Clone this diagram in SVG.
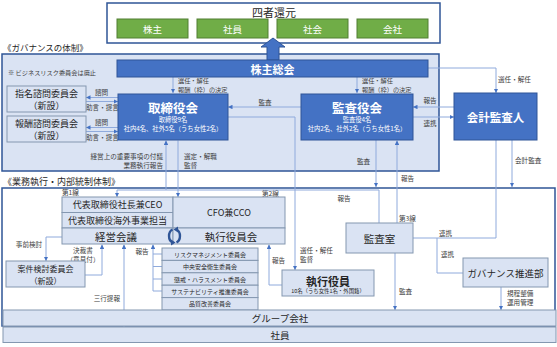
<svg xmlns="http://www.w3.org/2000/svg" width="557" height="347" viewBox="0 0 557 347">
<style>
text{font-family:'Noto Sans CJK JP','Noto Sans',sans-serif;dominant-baseline:central}
.t{fill:#262626;text-anchor:middle}
.w{fill:#fff;text-anchor:middle;font-weight:bold}
.l{fill:#404040;font-size:6.6px}
.lm{fill:#404040;font-size:6.6px;text-anchor:middle}
.le{fill:#404040;font-size:6.6px;text-anchor:end}
.ls{fill:#404040;font-size:6.2px}
.lt{fill:#DAE3F3;stroke:#8497B0;stroke-width:1}
.dk{fill:#4472C4;stroke:#2F5597;stroke-width:1}
.gr{fill:#70AD47;stroke:#507E32;stroke-width:1}
.frame{stroke:#2F5597;stroke-width:1.5}
.c{fill:none;stroke:#8FAADC;stroke-width:1}
.a{marker-end:url(#ah)}
</style>
<defs>
<marker id="ah" viewBox="0 0 6 6" refX="6" refY="3" markerWidth="4.5" markerHeight="4.5" markerUnits="userSpaceOnUse" orient="auto"><path d="M0,0L6,3L0,6z" fill="#4472C4"/></marker>
</defs>

<g id="yonsha">
<rect x="107" y="3" width="333" height="40" fill="#fff" class="frame"/>
<text class="t" x="274" y="12" font-size="11">四者還元</text>
<rect class="gr" x="117" y="19" width="71" height="19"/><text class="w" style="font-weight:normal" x="152.5" y="28.5" font-size="9.5">株主</text>
<rect class="gr" x="197" y="19" width="71" height="19"/><text class="w" style="font-weight:normal" x="232.5" y="28.5" font-size="9.5">社員</text>
<rect class="gr" x="277" y="19" width="71" height="19"/><text class="w" style="font-weight:normal" x="312.5" y="28.5" font-size="9.5">社会</text>
<rect class="gr" x="357" y="19" width="71" height="19"/><text class="w" style="font-weight:normal" x="392.5" y="28.5" font-size="9.5">会社</text>
</g>

<g id="governance-frame">
<text x="3" y="47" font-size="8.5" fill="#262626">《ガバナンスの体制》</text>
<rect x="2" y="54" width="437" height="117" fill="#DAE3F3" class="frame"/>
<text x="8" y="72" font-size="6.2" fill="#404040">※ ビジネスリスク委員会は廃止</text>
</g>

<g id="big-arrow">
<polygon points="267,60 267,47 261,47 273,38 285,47 279,47 279,60" fill="#4472C4" stroke="#2F5597" stroke-width="1"/>
</g>

<g id="exec-frame">
<text x="3" y="181" font-size="9" fill="#262626">《業務執行・内部統制体制》</text>
<rect x="2" y="188" width="553" height="138" fill="#fff" class="frame"/>
<text class="l" x="62" y="192">第1線</text>
<text class="l" x="262" y="193">第2線</text>
<text class="l" x="399" y="218">第3線</text>
</g>

<g id="connectors">
<path class="c a" d="M173,77V93"/>
<path class="c a" d="M357,77V93"/>
<path class="c a" d="M428,68H496V93"/>
<path class="c a" d="M118,97.5H86"/>
<path class="c a" d="M86,101.5H118"/>
<path class="c a" d="M118,127.5H86"/>
<path class="c a" d="M86,131.5H118"/>
<path class="c a" d="M301,107H228"/>
<path class="c a" d="M454,107H413"/>
<path class="c a" d="M413,117H454"/>
<path class="c a" d="M228,117H295V270"/>
<path class="c a" d="M379,223V190H117V197"/>
<path class="c a" d="M166,190V140.5"/>
<path class="c a" d="M178,140.5V197"/>
<path class="c a" d="M376,140V187"/>
<path class="c a" d="M397,223V140.5"/>
<path class="c a" d="M512,140V187"/>
<path class="c" d="M496,140V238H413"/>
<path class="c" d="M437,238V273H463"/>
<path class="c a" d="M395,253V310"/>
<path class="c a" d="M501,287V310"/>
<path class="c a" d="M282,285H269V244.5"/>
<path class="c a" d="M153,291V244.5"/>
<path class="c" d="M153,254H162M153,266.5H162M153,279H162M153,291H162"/>
<path class="c a" d="M85,275H102V244.5"/>
<path class="c a" d="M124,335V244.5"/>
<path class="c a" d="M62,237H46V261"/>
<text class="ls" x="178" y="80">選任・解任</text>
<text class="ls" x="178" y="89.3">報酬（枠）の決定</text>
<text class="ls" x="362" y="80">選任・解任</text>
<text class="ls" x="362" y="89.3">報酬（枠）の決定</text>
<text class="l" x="498" y="79">選任・解任</text>
<text class="l" x="95" y="91.5">諮問</text>
<text class="l" x="86" y="106.5">助言・提言</text>
<text class="l" x="95" y="121.5">諮問</text>
<text class="l" x="86" y="136.5">助言・提言</text>
<text class="lm" x="265" y="102">監査</text>
<text class="lm" x="430" y="100">報告</text>
<text class="lm" x="430" y="123">連携</text>
<text class="le" x="163" y="155.5">経営上の重要事項の付議</text>
<text class="le" x="163" y="165.3">業務執行報告</text>
<text class="l" x="184" y="155.5">選定・解職</text>
<text class="l" x="184" y="165.3">監督</text>
<text class="l" x="357" y="161">監査</text>
<text class="l" x="401" y="178">報告</text>
<text class="l" x="515" y="160">会計監査</text>
<text class="lm" x="344" y="198">報告</text>
<text class="l" x="300" y="249.5">選任・解任</text>
<text class="l" x="300" y="259.3">監督</text>
<text class="l" x="272" y="260">報告</text>
<text class="lm" x="142" y="251">報告</text>
<text class="lm" x="83" y="249.5">決裁書</text>
<text class="lm" x="83" y="259.3">（意見付）</text>
<text class="lm" x="29" y="244">事前検討</text>
<text class="le" x="120" y="298">三行提報</text>
<text class="l" x="399" y="291">監査</text>
<text class="l" x="507" y="292.5">規程整備</text>
<text class="l" x="507" y="302.3">運用管理</text>
<text class="l" x="439" y="233">連携</text>
<text class="l" x="441" y="254">連携</text>
</g>

<g id="kabunushi-sokai">
<rect x="117" y="60" width="311" height="17" fill="#4472C4" stroke="#2F5597" stroke-width="1"/>
<text class="w" x="272.5" y="68.5" font-size="11">株主総会</text>
</g>

<g id="shimei">
<rect class="lt" x="7" y="86" width="79" height="26"/>
<text class="t" x="46.5" y="93.5" font-size="9">指名諮問委員会</text>
<text class="t" x="46.5" y="105" font-size="9">（新設）</text>
</g>
<g id="hoshu">
<rect class="lt" x="7" y="116" width="79" height="26"/>
<text class="t" x="46.5" y="123.5" font-size="9">報酬諮問委員会</text>
<text class="t" x="46.5" y="135" font-size="9">（新設）</text>
</g>

<g id="torishimariyakukai">
<rect class="dk" x="118" y="94" width="110" height="46"/>
<text class="w" x="173" y="107" font-size="12.5">取締役会</text>
<text class="w" style="font-weight:normal" x="173" y="119.5" font-size="6.3">取締役9名</text>
<text class="w" style="font-weight:normal" x="173" y="128.5" font-size="6.3">社内4名、社外5名（うち女性2名）</text>
</g>

<g id="kansayakukai">
<rect class="dk" x="301" y="94" width="112" height="46"/>
<text class="w" x="357" y="107" font-size="12.5">監査役会</text>
<text class="w" style="font-weight:normal" x="357" y="119.5" font-size="6.3">監査役4名</text>
<text class="w" style="font-weight:normal" x="357" y="128.5" font-size="6.3">社内2名、社外2名（うち女性1名）</text>
</g>

<g id="kaikei-kansanin">
<rect class="dk" x="454" y="93" width="83" height="47"/>
<text class="w" x="495.5" y="117" font-size="11.5">会計監査人</text>
</g>

<g id="ceo">
<rect class="lt" x="62" y="197" width="111" height="15.5"/>
<text class="t" x="117.5" y="204.75" font-size="9">代表取締役社長兼CEO</text>
</g>
<g id="kaigai">
<rect class="lt" x="62" y="212.5" width="111" height="15.5"/>
<text class="t" x="117.5" y="220.25" font-size="9">代表取締役海外事業担当</text>
</g>
<g id="keiei-kaigi">
<rect class="lt" x="62" y="228" width="111" height="16"/>
<text class="t" x="116" y="236.5" font-size="10.5">経営会議</text>
</g>
<g id="cfo">
<rect class="lt" x="173" y="197" width="112" height="31"/>
<text class="t" x="229" y="212.5" font-size="9">CFO兼CCO</text>
</g>
<g id="shikko-yakuinkai">
<rect class="lt" x="173" y="228" width="112" height="16"/>
<text class="t" x="231" y="236.5" font-size="10.5">執行役員会</text>
</g>
<g id="cycle-icon" fill="none" stroke="#2F5597" stroke-width="2.4">
<path d="M172.5,229.5A5.5,7 0 0 0 172.5,242.5"/>
<path d="M176.5,242.5A5.5,7 0 0 0 176.5,229.5"/>
<polygon points="175.5,242.5 171,239.5 171,245.5" fill="#2F5597" stroke="none"/>
<polygon points="173.5,229.5 178,226.5 178,232.5" fill="#2F5597" stroke="none"/>
</g>

<g id="committees">
<rect class="lt" x="162" y="248" width="96" height="12.4"/>
<text class="t" x="210" y="254.2" font-size="6">リスクマネジメント委員会</text>
<rect class="lt" x="162" y="260.4" width="96" height="12.4"/>
<text class="t" x="210" y="266.6" font-size="6">中央安全衛生委員会</text>
<rect class="lt" x="162" y="272.8" width="96" height="12.4"/>
<text class="t" x="210" y="279" font-size="6">懲戒・ハラスメント委員会</text>
<rect class="lt" x="162" y="285.2" width="96" height="12.4"/>
<text class="t" x="210" y="291.4" font-size="6">サステナビリティ推進委員会</text>
<rect class="lt" x="162" y="297.6" width="96" height="12.4"/>
<text class="t" x="210" y="303.8" font-size="6">品質改善委員会</text>
</g>

<g id="anken">
<rect class="lt" x="6" y="261" width="79" height="26"/>
<text class="t" x="45.5" y="268.3" font-size="8">案件検討委員会</text>
<text class="t" x="45.5" y="280" font-size="8">（新設）</text>
</g>

<g id="shikko-yakuin">
<rect class="lt" x="282" y="270" width="92" height="26"/>
<text class="t" x="328" y="280.5" font-size="11" font-weight="bold">執行役員</text>
<text class="t" x="328" y="291" font-size="5.4">10名（うち女性1名・外国籍）</text>
</g>

<g id="kansashitsu">
<rect class="lt" x="346" y="223" width="67" height="30"/>
<text class="t" x="379.5" y="238" font-size="10.5">監査室</text>
</g>

<g id="governance-dept">
<rect class="lt" x="463" y="258" width="85" height="29"/>
<text class="t" x="505.5" y="272.5" font-size="9.5">ガバナンス推進部</text>
</g>

<g id="group">
<rect class="lt" x="3" y="310" width="553" height="16"/>
<text class="t" x="280" y="318" font-size="9.5">グループ会社</text>
</g>
<g id="shain">
<rect class="lt" x="3" y="327" width="553" height="15.5"/>
<text class="t" x="280" y="334.75" font-size="9.5">社員</text>
</g>
</svg>
